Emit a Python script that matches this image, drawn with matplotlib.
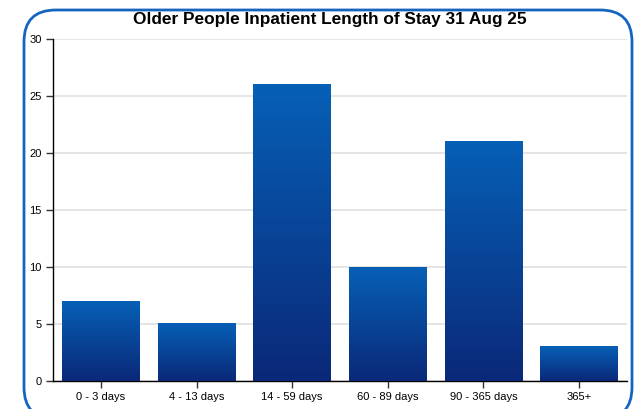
import numpy as np
import matplotlib.pyplot as plt
from matplotlib.patches import FancyBboxPatch
from matplotlib.colors import LinearSegmentedColormap

categories = ['0 - 3 days', '4 - 13 days', '14 - 59 days', '60 - 89 days', '90 - 365 days', '365+']
counts = [7, 5, 26, 10, 21, 3]
yticks = [0, 5, 10, 15, 20, 25, 30]

plt.rcParams['font.family'] = ['Liberation Sans', 'DejaVu Sans']

fig = plt.figure(figsize=(6.35, 4.09), dpi=100)
ax = fig.add_axes([53/635, 1 - 381/409, (627-53)/635, (381-39)/409])

cmap = LinearSegmentedColormap.from_list('bar', ['#0b2878', '#0660b6'])
grad = np.linspace(0, 1, 256).reshape(-1, 1)

x = np.arange(len(categories))
width = 0.815
bars = ax.bar(x, counts, width=width, color='none', zorder=3)
for b in bars:
    x0, w, h = b.get_x(), b.get_width(), b.get_height()
    ax.imshow(grad, extent=[x0, x0 + w, 0, h], origin='lower', cmap=cmap,
              aspect='auto', zorder=3)

ax.set_xlim(-0.5, len(categories) - 0.5)
ax.set_ylim(0, 30)
ax.set_xticks(x)
ax.set_xticklabels(categories, fontsize=8)
ax.set_yticks(yticks)
ax.set_yticklabels([str(t) for t in yticks], fontsize=8)
ax.tick_params(axis='both', length=5, width=1, color='#333333', pad=3)
ax.yaxis.grid(True, color='#e0e0e0', linewidth=1.2, zorder=0)
ax.set_axisbelow(True)
for s in ['top', 'right']:
    ax.spines[s].set_visible(False)
for s in ['left', 'bottom']:
    ax.spines[s].set_color('black')
    ax.spines[s].set_linewidth(1)

fig.text(330/635, 1 - 19.5/409, 'Older People Inpatient Length of Stay 31 Aug 25',
         ha='center', va='center', fontsize=12.4, fontweight='bold')

border = FancyBboxPatch((24/635, -10/409), (632-24)/635, (406+3)/409,
                        boxstyle='round,pad=0,rounding_size=0.05',
                        transform=fig.transFigure, facecolor='none',
                        edgecolor='#1565c0', linewidth=2, clip_on=False,
                        mutation_aspect=635/409)
fig.patches.append(border)

fig.savefig('out.png', dpi=100)
